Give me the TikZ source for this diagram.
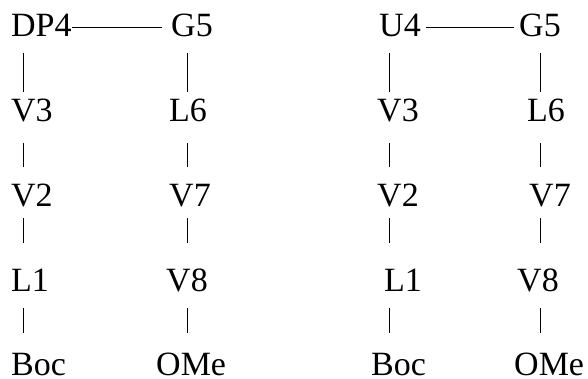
\documentclass[tikz,border=0pt]{standalone}
\usepackage{fontspec}
\setmainfont{Liberation Serif}
\usetikzlibrary{calc}
\begin{document}
\begin{tikzpicture}[x=1pt,y=1pt,
  lbl/.style={inner sep=0pt,anchor=base west,font=\fontsize{34}{40}\selectfont},
  bond/.style={line width=1pt,black}]
\useasboundingbox (0,0) rectangle (588,379);
% left panel
\node[lbl] (dpf) at (11,342) {DP4};
\node[lbl] (ga) at (171,342) {G5};
\node[lbl] (va) at (11,257) {V3};
\node[lbl] (la) at (169,257) {L6};
\node[lbl] (vb) at (11,172) {V2};
\node[lbl] (vc) at (169,172) {V7};
\node[lbl] (lb) at (11,87) {L1};
\node[lbl] (vd) at (166,87) {V8};
\node[lbl] (ba) at (11,3) {Boc};
\node[lbl] (oa) at (156,3) {OMe};
\coordinate (xa) at (23,0);
\coordinate (xb) at (187,0);
% right panel
\node[lbl] (uf) at (379,342) {U4};
\node[lbl] (gb) at (519,342) {G5};
\node[lbl] (ve) at (377,257) {V3};
\node[lbl] (lc) at (527,257) {L6};
\node[lbl] (vf) at (377,172) {V2};
\node[lbl] (vg) at (529,172) {V7};
\node[lbl] (ld) at (384,87) {L1};
\node[lbl] (vh) at (517,87) {V8};
\node[lbl] (bb) at (371,3) {Boc};
\node[lbl] (ob) at (514,3) {OMe};
\coordinate (xc) at (389,0);
\coordinate (xd) at (540,0);
% horizontal bonds
\draw[bond] ($(dpf.base east)+(0,9)$) -- ($(ga.base west)+(-9,9)$);
\draw[bond] ($(uf.base east)+(5,9)$) -- ($(gb.base west)+(-5,9)$);
% vertical bonds, left panel
\draw[bond] ($(dpf.base -| xa)+(0,-16)$) -- ($(va.base -| xa)+(0,30)$);
\draw[bond] ($(va.base -| xa)+(0,-21)$) -- ($(vb.base -| xa)+(0,40)$);
\draw[bond] ($(vb.base -| xa)+(0,-11)$) -- ($(lb.base -| xa)+(0,49)$);
\draw[bond] ($(lb.base -| xa)+(0,-16)$) -- ($(ba.base -| xa)+(0,43)$);
\draw[bond] ($(ga.base -| xb)+(0,-16)$) -- ($(la.base -| xb)+(0,30)$);
\draw[bond] ($(la.base -| xb)+(0,-21)$) -- ($(vc.base -| xb)+(0,40)$);
\draw[bond] ($(vc.base -| xb)+(0,-11)$) -- ($(vd.base -| xb)+(0,49)$);
\draw[bond] ($(vd.base -| xb)+(0,-16)$) -- ($(oa.base -| xb)+(0,43)$);
% vertical bonds, right panel
\draw[bond] ($(uf.base -| xc)+(0,-16)$) -- ($(ve.base -| xc)+(0,30)$);
\draw[bond] ($(ve.base -| xc)+(0,-21)$) -- ($(vf.base -| xc)+(0,40)$);
\draw[bond] ($(vf.base -| xc)+(0,-11)$) -- ($(ld.base -| xc)+(0,49)$);
\draw[bond] ($(ld.base -| xc)+(0,-16)$) -- ($(bb.base -| xc)+(0,43)$);
\draw[bond] ($(gb.base -| xd)+(0,-16)$) -- ($(lc.base -| xd)+(0,30)$);
\draw[bond] ($(lc.base -| xd)+(0,-21)$) -- ($(vg.base -| xd)+(0,40)$);
\draw[bond] ($(vg.base -| xd)+(0,-11)$) -- ($(vh.base -| xd)+(0,49)$);
\draw[bond] ($(vh.base -| xd)+(0,-16)$) -- ($(ob.base -| xd)+(0,43)$);
\end{tikzpicture}
\end{document}
